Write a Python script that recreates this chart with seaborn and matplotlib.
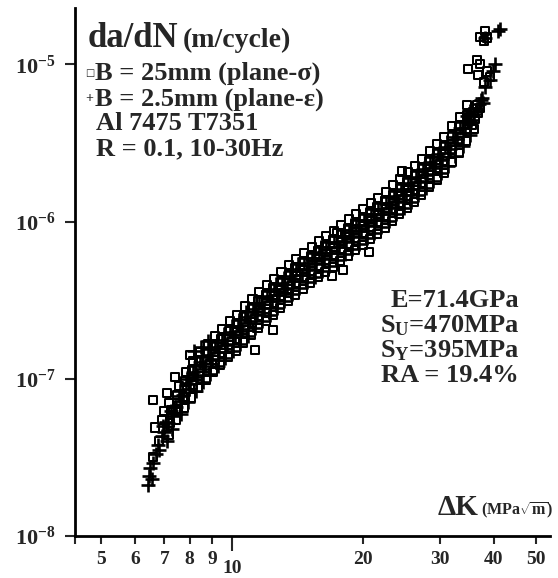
import matplotlib
matplotlib.use("Agg")
import matplotlib.pyplot as plt
import seaborn as sns
import pandas as pd
from matplotlib.ticker import FixedLocator, FixedFormatter, NullLocator

# ---------------- data ----------------
# B = 25 mm (plane stress) -> open squares : dK (MPa sqrt m), da/dN (m/cycle)
sq_dk = [7.15, 7.22, 7.25, 7.18, 7.45, 7.52, 7.5, 7.55, 7.75, 7.82, 7.8, 7.85,
         8.05, 8.12, 8.1, 8.15, 8.35, 8.42, 8.4, 8.45, 8.7, 8.77, 8.75, 8.8,
         9.05, 9.12, 9.1, 9.15, 9.4, 9.47, 9.45, 9.5, 9.8, 9.87, 9.85, 9.9,
         10.2, 10.27, 10.25, 10.3, 10.6, 10.67, 10.65, 10.7, 11.05, 11.12, 11.1, 11.15,
         11.45, 11.52, 11.5, 11.55, 11.95, 12.02, 12.0, 12.05, 12.4, 12.47, 12.45, 12.5,
         12.9, 12.97, 12.95, 13.0, 13.45, 13.52, 13.5, 13.55, 13.95, 14.02, 14.0, 14.05,
         14.55, 14.62, 14.6, 14.65, 15.15, 15.22, 15.2, 15.25, 15.75, 15.82, 15.8, 15.85,
         16.35, 16.42, 16.4, 16.45, 17.05, 17.12, 17.1, 17.15, 17.75, 17.82, 17.8, 17.85,
         18.45, 18.52, 18.5, 18.55, 19.15, 19.22, 19.2, 19.25, 19.95, 20.02, 20.0, 20.05,
         20.75, 20.82, 20.8, 20.85, 21.55, 21.62, 21.6, 21.65, 22.45, 22.52, 22.5, 22.55,
         23.35, 23.42, 23.4, 23.45, 24.25, 24.32, 24.3, 24.35, 25.25, 25.32, 25.3, 25.35,
         26.25, 26.32, 26.3, 26.35, 27.25, 27.32, 27.3, 27.35, 28.35, 28.42, 28.4, 28.45,
         29.55, 29.62, 29.6, 29.65, 30.65, 30.72, 30.7, 30.75, 31.95, 32.02, 32.0, 32.05,
         33.25, 33.32, 33.3, 33.35, 34.55, 34.62, 34.6, 34.65,
         6.6, 6.65, 6.58, 6.8, 6.9, 7.0, 7.1, 7.4, 8.0, 11.3, 12.4, 12.9, 17.0, 18.0, 20.7, 17.4, 24.6,
         35.3, 35.6, 35.9, 36.2, 36.5, 36.0, 36.8, 37.2, 34.9, 36.6, 37.2, 36.8, 38.5, 39.2, 37.9,
         37.2, 38.2, 37.9, 38.6]
sq_da = [4.4e-8, 5.2e-8, 6.3e-8, 7.0e-8, 5.5e-8, 6.4e-8, 7.9e-8, 9.0e-8, 6.5e-8, 7.7e-8, 9.6e-8, 1.1e-7,
         7.6e-8, 9.1e-8, 1.13e-7, 1.29e-7, 8.7e-8, 1.04e-7, 1.29e-7, 1.48e-7, 9.8e-8, 1.17e-7, 1.45e-7, 1.66e-7,
         1.1e-7, 1.31e-7, 1.62e-7, 1.86e-7, 1.22e-7, 1.46e-7, 1.8e-7, 2.07e-7, 1.37e-7, 1.64e-7, 2.02e-7, 2.32e-7,
         1.5e-7, 1.8e-7, 2.22e-7, 2.55e-7, 1.7e-7, 2.03e-7, 2.5e-7, 2.88e-7, 1.91e-7, 2.28e-7, 2.82e-7, 3.23e-7,
         2.1e-7, 2.51e-7, 3.1e-7, 3.56e-7, 2.32e-7, 2.77e-7, 3.43e-7, 3.93e-7, 2.56e-7, 3.05e-7, 3.77e-7, 4.33e-7,
         2.81e-7, 3.35e-7, 4.14e-7, 4.75e-7, 3.12e-7, 3.72e-7, 4.6e-7, 5.28e-7, 3.43e-7, 4.09e-7, 5.06e-7, 5.8e-7,
         3.74e-7, 4.46e-7, 5.52e-7, 6.34e-7, 4.06e-7, 4.84e-7, 5.98e-7, 6.86e-7, 4.41e-7, 5.25e-7, 6.5e-7, 7.46e-7,
         4.76e-7, 5.67e-7, 7.02e-7, 8.05e-7, 5.15e-7, 6.14e-7, 7.59e-7, 8.71e-7, 5.62e-7, 6.7e-7, 8.28e-7, 9.5e-7,
         6.08e-7, 7.25e-7, 8.97e-7, 1.03e-6, 6.55e-7, 7.81e-7, 9.66e-7, 1.11e-6, 7.1e-7, 8.46e-7, 1.05e-6, 1.2e-6,
         7.72e-7, 9.21e-7, 1.14e-6, 1.31e-6, 8.35e-7, 9.95e-7, 1.23e-6, 1.41e-6, 9.13e-7, 1.09e-6, 1.35e-6, 1.54e-6,
         1.01e-6, 1.2e-6, 1.48e-6, 1.7e-6, 1.11e-6, 1.32e-6, 1.63e-6, 1.87e-6, 1.22e-6, 1.45e-6, 1.79e-6, 2.06e-6,
         1.33e-6, 1.59e-6, 1.97e-6, 2.26e-6, 1.48e-6, 1.77e-6, 2.19e-6, 2.51e-6, 1.65e-6, 1.97e-6, 2.44e-6, 2.8e-6,
         1.85e-6, 2.2e-6, 2.73e-6, 3.13e-6, 2.04e-6, 2.44e-6, 3.01e-6, 3.46e-6, 2.38e-6, 2.84e-6, 3.51e-6, 4.03e-6,
         2.73e-6, 3.26e-6, 4.03e-6, 4.62e-6, 3.24e-6, 3.86e-6, 4.77e-6, 5.48e-6,
         3.2e-8, 4.9e-8, 7.3e-8, 4.0e-8, 5.5e-8, 6.2e-8, 8.1e-8, 1.02e-7, 1.42e-7, 1.53e-7, 2.05e-7, 3.7e-7,
         4.5e-7, 4.9e-7, 6.4e-7, 8.5e-7, 2.08e-6,
         4.6e-6, 4.1e-6, 5.0e-6, 4.5e-6, 5.5e-6, 3.9e-6, 4.9e-6, 5.3e-6, 9.3e-6, 1.07e-5, 1.0e-5, 8.6e-6, 9.0e-6,
         8.3e-6, 7.7e-6, 1.5e-5, 1.62e-5, 1.4e-5, 1.48e-5]

# B = 2.5 mm (plane strain) -> plus signs
pl_dk = [7.3, 7.32, 7.35, 7.62, 7.64, 7.6, 7.93, 7.95, 7.9, 8.25, 8.27, 8.22, 8.57, 8.6, 8.55,
         8.92, 8.95, 8.9, 9.28, 9.3, 9.25, 9.64, 9.66, 9.6, 10.05, 10.07, 10.0, 10.45, 10.48, 10.4,
         10.86, 10.88, 10.8, 11.3, 11.33, 11.25, 11.73, 11.75, 11.7, 12.24, 12.26, 12.2, 12.7, 12.72, 12.65,
         13.2, 13.23, 13.15, 13.77, 13.8, 13.7, 14.28, 14.3, 14.2, 14.9, 14.92, 14.85, 15.5, 15.53, 15.45,
         16.1, 16.13, 16.05, 16.75, 16.78, 16.7, 17.45, 17.47, 17.4, 18.15, 18.18, 18.1, 18.87, 18.9, 18.8,
         19.6, 19.62, 19.55, 20.4, 20.43, 20.35, 21.2, 21.23, 21.15, 22.05, 22.07, 22.0, 22.95, 22.97, 22.9,
         23.85, 23.88, 23.8, 24.8, 24.82, 24.75, 25.8, 25.83, 25.75, 26.8, 26.83, 26.75, 27.85, 27.88, 27.8,
         28.95, 28.98, 28.9, 30.15, 30.18, 30.1, 31.3, 31.33, 31.25, 32.6, 32.63, 32.55, 33.95, 33.98, 33.9,
         35.2, 35.25, 35.15,
         7.13, 7.43, 7.72, 8.02, 8.32, 8.66, 9.01, 9.36, 9.75, 10.15, 10.54, 10.99, 11.39, 11.88, 12.33, 12.82,
         13.37, 13.86, 14.45, 15.05, 15.64, 16.24, 16.93, 17.62, 18.32, 19.01, 19.8, 20.59, 21.38, 22.28, 23.17,
         24.06, 25.05, 26.04, 27.03, 28.12, 29.3, 30.39, 31.68, 32.97, 34.25,
         7.24, 7.54, 7.84, 8.14, 8.44, 8.79, 9.15, 9.5, 9.9, 10.3, 10.7, 11.16, 11.56, 12.06, 12.51, 13.01,
         13.57, 14.07, 14.67, 15.28, 15.88, 16.48, 17.19, 17.89, 18.59, 19.3, 20.1, 20.9, 21.71, 22.61, 23.52,
         24.42, 25.43, 26.43, 27.44, 28.54, 29.75, 30.85, 32.16, 33.47, 34.77,
         6.4, 6.45, 6.5, 6.55, 6.6, 6.7, 6.75, 6.8, 6.9, 7.0, 7.05, 7.1, 6.95, 8.2, 8.5, 8.8,
         35.5, 36.0, 36.6, 37.0, 37.4, 37.8, 37.6, 40.2, 39.8, 39.2, 38.2, 40.8, 41.3, 38.2]
pl_da = [4.8e-8, 5.8e-8, 6.6e-8, 6.0e-8, 7.2e-8, 8.4e-8, 7.1e-8, 8.6e-8, 1.0e-7, 8.4e-8, 1.02e-7, 1.2e-7,
         9.6e-8, 1.16e-7, 1.37e-7, 1.08e-7, 1.31e-7, 1.54e-7, 1.21e-7, 1.47e-7, 1.72e-7, 1.35e-7, 1.63e-7, 1.92e-7,
         1.51e-7, 1.83e-7, 2.15e-7, 1.66e-7, 2.0e-7, 2.35e-7, 1.87e-7, 2.27e-7, 2.66e-7, 2.1e-7, 2.55e-7, 2.99e-7,
         2.32e-7, 2.81e-7, 3.29e-7, 2.56e-7, 3.1e-7, 3.64e-7, 2.82e-7, 3.41e-7, 4.0e-7, 3.1e-7, 3.74e-7, 4.39e-7,
         3.44e-7, 4.16e-7, 4.88e-7, 3.78e-7, 4.58e-7, 5.37e-7, 4.13e-7, 4.99e-7, 5.86e-7, 4.47e-7, 5.41e-7, 6.34e-7,
         4.86e-7, 5.88e-7, 6.89e-7, 5.25e-7, 6.34e-7, 7.44e-7, 5.68e-7, 6.86e-7, 8.05e-7, 6.19e-7, 7.49e-7, 8.78e-7,
         6.71e-7, 8.11e-7, 9.52e-7, 7.22e-7, 8.74e-7, 1.02e-6, 7.83e-7, 9.46e-7, 1.11e-6, 8.51e-7, 1.03e-6, 1.21e-6,
         9.2e-7, 1.11e-6, 1.31e-6, 1.01e-6, 1.22e-6, 1.43e-6, 1.11e-6, 1.34e-6, 1.57e-6, 1.22e-6, 1.48e-6, 1.73e-6,
         1.34e-6, 1.62e-6, 1.9e-6, 1.47e-6, 1.78e-6, 2.09e-6, 1.63e-6, 1.98e-6, 2.32e-6, 1.82e-6, 2.2e-6, 2.59e-6,
         2.04e-6, 2.46e-6, 2.89e-6, 2.25e-6, 2.72e-6, 3.2e-6, 2.62e-6, 3.17e-6, 3.72e-6, 3.01e-6, 3.64e-6, 4.27e-6,
         3.57e-6, 4.32e-6, 5.06e-6,
         5.2e-8, 6.6e-8, 7.9e-8, 9.3e-8, 1.06e-7, 1.2e-7, 1.34e-7, 1.49e-7, 1.67e-7, 1.83e-7, 2.07e-7, 2.33e-7,
         2.57e-7, 2.83e-7, 3.12e-7, 3.42e-7, 3.8e-7, 4.18e-7, 4.56e-7, 4.94e-7, 5.37e-7, 5.8e-7, 6.27e-7, 6.84e-7,
         7.41e-7, 7.98e-7, 8.65e-7, 9.41e-7, 1.02e-6, 1.11e-6, 1.23e-6, 1.35e-6, 1.48e-6, 1.62e-6, 1.81e-6,
         2.01e-6, 2.25e-6, 2.49e-6, 2.9e-6, 3.33e-6, 3.94e-6,
         6.2e-8, 7.8e-8, 9.4e-8, 1.11e-7, 1.27e-7, 1.42e-7, 1.59e-7, 1.77e-7, 1.99e-7, 2.18e-7, 2.46e-7, 2.77e-7,
         3.05e-7, 3.37e-7, 3.71e-7, 4.07e-7, 4.52e-7, 4.97e-7, 5.42e-7, 5.88e-7, 6.38e-7, 6.89e-7, 7.46e-7,
         8.14e-7, 8.81e-7, 9.49e-7, 1.03e-6, 1.12e-6, 1.21e-6, 1.32e-6, 1.46e-6, 1.6e-6, 1.76e-6, 1.93e-6,
         2.15e-6, 2.4e-6, 2.68e-6, 2.96e-6, 3.45e-6, 3.96e-6, 4.69e-6,
         2.1e-8, 2.4e-8, 2.7e-8, 2.3e-8, 2.9e-8, 3.3e-8, 3.8e-8, 3.5e-8, 4.3e-8, 4.6e-8, 5.3e-8, 4.0e-8, 5.0e-8,
         1.5e-7, 1.6e-7, 1.75e-7,
         4.4e-6, 4.8e-6, 5.2e-6, 5.6e-6, 5.9e-6, 5.7e-6, 6.1e-6, 1.0e-5, 9.0e-6, 7.9e-6, 7.2e-6, 1.62e-5, 1.67e-5,
         1.48e-5]

x_major = [10]
x_major_labels = ["10"]
x_minor = [5, 6, 7, 8, 9, 20, 30, 40, 50]
x_minor_labels = ["5", "6", "7", "8", "9", "20", "30", "40", "50"]
y_major = [1e-8, 1e-7, 1e-6, 1e-5]
y_labels = [r"$\mathbf{10^{-8}}$", r"$\mathbf{10^{-7}}$", r"$\mathbf{10^{-6}}$", r"$\mathbf{10^{-5}}$"]

# ---------------- style ----------------
sns.set_style("white")
plt.rcParams["font.family"] = ["Liberation Serif", "DejaVu Sans"]
plt.rcParams["font.weight"] = "bold"
plt.rcParams["mathtext.fontset"] = "custom"
plt.rcParams["mathtext.rm"] = "Liberation Serif:bold"
plt.rcParams["mathtext.it"] = "Liberation Serif:bold"
plt.rcParams["mathtext.bf"] = "Liberation Serif:bold"

W, H = 558, 578
fig = plt.figure(figsize=(W / 100, H / 100), dpi=100)
x0, x1, y0, y1 = 75, 550, 536, 8
ax = fig.add_axes([x0 / W, 1 - y0 / H, (x1 - x0) / W, (y0 - y1) / H])

df_sq = pd.DataFrame({"dK": sq_dk, "dadN": sq_da})
df_pl = pd.DataFrame({"dK": pl_dk, "dadN": pl_da})
sns.scatterplot(data=df_sq, x="dK", y="dadN", marker="s", s=34, facecolor="none",
                edgecolor="black", linewidth=1.45, ax=ax, zorder=3)
sns.scatterplot(data=df_pl, x="dK", y="dadN", marker="+", s=95, color="black",
                linewidth=1.9, ax=ax, zorder=3)

ax.set_xscale("log")
ax.set_yscale("log")
xlo, xhi = 4.36, 53.8
ax.set_xlim(xlo, xhi)
ax.set_ylim(1e-8, 2.28e-5)
ax.set_xlabel("")
ax.set_ylabel("")

ax.xaxis.set_major_locator(FixedLocator(x_major))
ax.xaxis.set_major_formatter(FixedFormatter(x_major_labels))
ax.xaxis.set_minor_locator(FixedLocator([xlo * 1.0001] + x_minor))
ax.xaxis.set_minor_formatter(FixedFormatter([""] + x_minor_labels))
ax.yaxis.set_major_locator(FixedLocator(y_major))
ax.yaxis.set_major_formatter(FixedFormatter(y_labels))
ax.yaxis.set_minor_locator(NullLocator())

ax.tick_params(axis="x", which="major", length=11, width=1.5, pad=6.5, labelsize=14, direction="out", bottom=True)
ax.tick_params(axis="x", which="minor", length=6, width=1.5, pad=4.5, labelsize=14, direction="out", bottom=True)
ax.tick_params(axis="y", which="major", length=7, width=1.5, pad=7, labelsize=16, direction="out", left=True)

for s in ["top", "right"]:
    ax.spines[s].set_visible(False)
for s in ["left", "bottom"]:
    ax.spines[s].set_linewidth(2.0)
    ax.spines[s].set_color("black")


def fx(px):
    return px / W


def fy(py):
    return 1 - py / H


# title
t1 = fig.text(fx(88), fy(47), "da/dN", fontsize=25, fontweight="bold", va="baseline")
fig.canvas.draw()
bb = t1.get_window_extent()
fig.text((bb.x1 + 4) / W, fy(47), "(m/cycle)", fontsize=20, fontweight="bold", va="baseline")

# legend-like lines
fig.text(fx(85), fy(76), "\u25a1", fontsize=7, family=["DejaVu Sans"], va="baseline")
fig.text(fx(95), fy(80), "B = 25mm (plane-\u03c3)", fontsize=19, fontweight="bold", va="baseline")
fig.text(fx(85), fy(102), "+", fontsize=10, fontweight="bold", va="baseline")
fig.text(fx(95), fy(106), "B = 2.5mm (plane-\u03b5)", fontsize=19, fontweight="bold", va="baseline")
fig.text(fx(96), fy(130), "Al 7475 T7351", fontsize=19, fontweight="bold", va="baseline")
fig.text(fx(96), fy(155), "R = 0.1, 10-30Hz", fontsize=19, fontweight="bold", va="baseline")

# material properties block
rx = 519
fig.text(fx(rx), fy(307), "E=71.4GPa", fontsize=19, fontweight="bold", ha="right", va="baseline")
fig.text(fx(rx), fy(332), r"S$_\mathrm{U}$=470MPa", fontsize=19, fontweight="bold", ha="right", va="baseline")
fig.text(fx(rx), fy(357), r"S$_\mathrm{Y}$=395MPa", fontsize=19, fontweight="bold", ha="right", va="baseline")
fig.text(fx(rx), fy(382), "RA = 19.4%", fontsize=19, fontweight="bold", ha="right", va="baseline")

# axis label (x)
t2 = fig.text(fx(553), fy(515), r"(MPa$\sqrt{\mathrm{m}}$)", fontsize=11.5, fontweight="bold",
              ha="right", va="baseline")
fig.canvas.draw()
bb2 = t2.get_window_extent()
fig.text((bb2.x0 - 2) / W, fy(515), "\u0394K", fontsize=21, fontweight="bold", ha="right", va="baseline")

fig.savefig("out.png", dpi=100)
